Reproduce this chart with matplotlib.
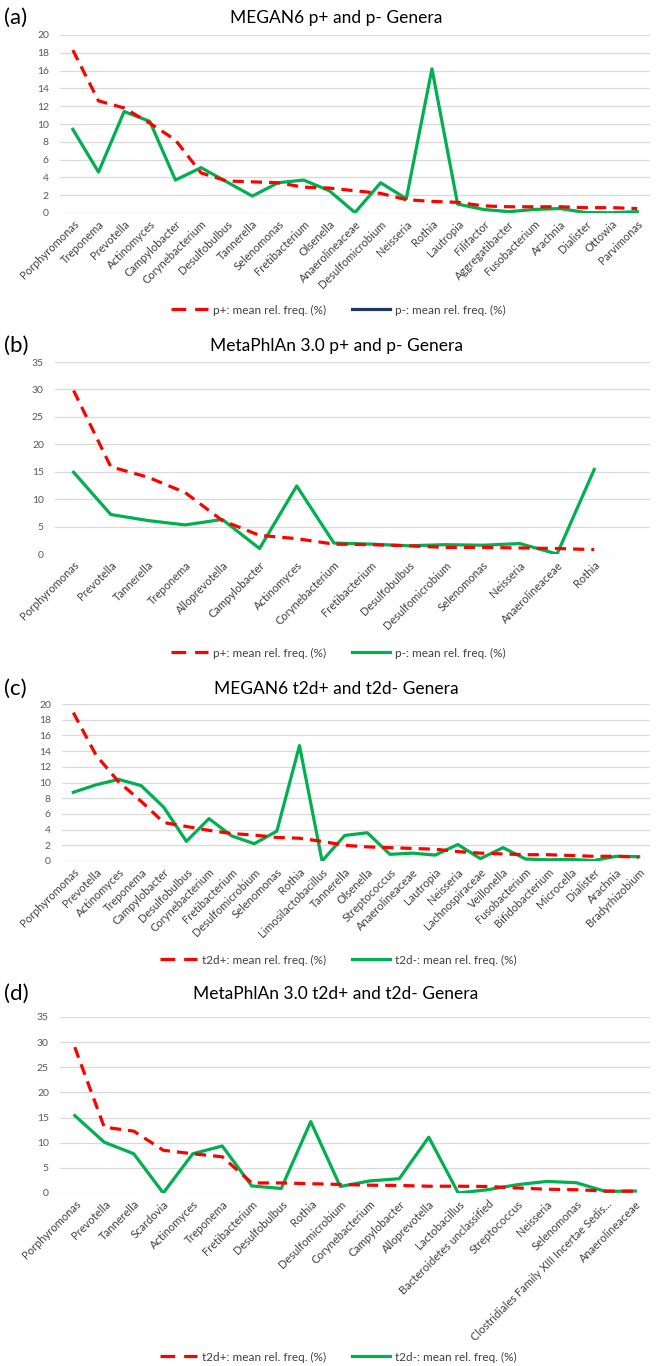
import numpy as np
import matplotlib.pyplot as plt
from matplotlib.lines import Line2D

plt.rcParams['font.family'] = ['Lato', 'DejaVu Sans']

RED = '#FF0000'
GREEN = '#00B050'
NAVY = '#1F3864'
GRID = '#D9D9D9'
TXT = '#595959'

# (a) MEGAN6, periodontitis
genera_a = ['Porphyromonas', 'Treponema', 'Prevotella', 'Actinomyces', 'Campylobacter',
            'Corynebacterium', 'Desulfobulbus', 'Tannerella', 'Selenomonas', 'Fretibacterium',
            'Olsenella', 'Anaerolineaceae', 'Desulfomicrobium', 'Neisseria', 'Rothia',
            'Lautropia', 'Filifactor', 'Aggregatibacter', 'Fusobacterium', 'Arachnia',
            'Dialister', 'Ottowia', 'Parvimonas']
p_plus_a = [18.3, 12.6, 11.8, 10.1, 8.2, 4.5, 3.6, 3.5, 3.4, 2.9, 2.8, 2.5, 2.2, 1.5, 1.3,
            1.2, 0.8, 0.7, 0.7, 0.7, 0.6, 0.6, 0.5]
p_minus_a = [9.4, 4.6, 11.4, 10.3, 3.7, 5.1, 3.5, 1.9, 3.4, 3.7, 2.5, 0.05, 3.4, 1.6, 16.2,
             1.0, 0.4, 0.15, 0.4, 0.5, 0.05, 0.03, 0.15]

# (b) MetaPhlAn 3.0, periodontitis (last category left empty)
genera_b = ['Porphyromonas', 'Prevotella', 'Tannerella', 'Treponema', 'Alloprevotella',
            'Campylobacter', 'Actinomyces', 'Corynebacterium', 'Fretibacterium', 'Desulfobulbus',
            'Desulfomicrobium', 'Selenomonas', 'Neisseria', 'Anaerolineaceae', 'Rothia', '']
p_plus_b = [29.8, 15.9, 14.0, 11.2, 6.1, 3.4, 2.8, 1.8, 1.7, 1.5, 1.2, 1.2, 1.1, 1.0, 0.8, np.nan]
p_minus_b = [14.9, 7.2, 6.1, 5.3, 6.3, 1.0, 12.4, 2.0, 1.8, 1.5, 1.7, 1.6, 1.9, 0.0, 15.4, np.nan]

# (c) MEGAN6, type 2 diabetes
genera_c = ['Porphyromonas', 'Prevotella', 'Actinomyces', 'Treponema', 'Campylobacter',
            'Desulfobulbus', 'Corynebacterium', 'Fretibacterium', 'Desulfomicrobium', 'Selenomonas',
            'Rothia', 'Limosilactobacillus', 'Tannerella', 'Olsenella', 'Streptococcus',
            'Anaerolineaceae', 'Lautropia', 'Neisseria', 'Lachnospiraceae', 'Veillonella',
            'Fusobacterium', 'Bifidobacterium', 'Microcella', 'Dialister', 'Arachnia',
            'Bradyrhizobium']
t2d_plus_c = [18.9, 13.5, 10.1, 7.6, 4.9, 4.4, 3.9, 3.5, 3.3, 3.0, 2.9, 2.5, 2.0, 1.8, 1.7,
              1.6, 1.5, 1.2, 1.0, 0.9, 0.8, 0.8, 0.7, 0.6, 0.6, 0.5]
t2d_minus_c = [8.75, 9.7, 10.4, 9.6, 6.85, 2.5, 5.4, 3.2, 2.2, 3.8, 14.7, 0.0, 3.25, 3.6, 0.85,
               1.0, 0.75, 2.1, 0.3, 1.7, 0.25, 0.15, 0.2, 0.05, 0.6, 0.55]

# (d) MetaPhlAn 3.0, type 2 diabetes
genera_d = ['Porphyromonas', 'Prevotella', 'Tannerella', 'Scardovia', 'Actinomyces', 'Treponema',
            'Fretibacterium', 'Desulfobulbus', 'Rothia', 'Desulfomicrobium', 'Corynebacterium',
            'Campylobacter', 'Alloprevotella', 'Lactobacillus', 'Bacteroidetes unclassified',
            'Streptococcus', 'Neisseria', 'Selenomonas',
            'Clostridiales Family XIII Incertae Sedis...', 'Anaerolineaceae']
t2d_plus_d = [29.0, 13.1, 12.3, 8.5, 7.8, 7.2, 2.0, 2.0, 1.85, 1.7, 1.55, 1.5, 1.35, 1.35, 1.3,
              1.0, 0.75, 0.65, 0.4, 0.35]
t2d_minus_d = [15.4, 10.1, 7.8, 0.0, 7.8, 9.35, 1.4, 0.9, 14.2, 1.3, 2.4, 2.85, 11.1, 0.0, 0.65,
               1.65, 2.3, 2.05, 0.3, 0.4]

W, H = 656, 1366
LW = 2.3
fig = plt.figure(figsize=(W / 100, H / 100), dpi=100)


def panel(x0, x1, ytop, ybot, cats, plus, minus, ymax, ystep, tag, title, tag_y,
          labels, legend_y, minus_key=GREEN):
    ax = fig.add_axes([x0 / W, 1 - ybot / H, (x1 - x0) / W, (ybot - ytop) / H])
    x = np.arange(len(cats))
    ax.plot(x, plus, color=RED, lw=LW, ls=(0, (3.5, 2.2)), zorder=3)
    ax.plot(x, minus, color=GREEN, lw=LW, zorder=2)
    ax.set_xlim(-0.5, len(cats) - 0.5)
    ax.set_ylim(0, ymax)
    ax.set_yticks(np.arange(0, ymax + 0.1, ystep))
    ax.grid(axis='y', color=GRID, lw=0.9)
    ax.set_axisbelow(True)
    for s in ax.spines.values():
        s.set_visible(False)
    ax.tick_params(length=0, labelsize=7.5, labelcolor=TXT)
    ax.tick_params(axis='y', pad=8)
    ax.set_xticks(x)
    ax.set_xticklabels(cats, rotation=45, ha='right', rotation_mode='anchor',
                       fontsize=8, color='#404040')
    ax.tick_params(axis='x', pad=4)
    fig.text(4 / W, 1 - tag_y / H, tag, fontsize=16, va='center', ha='left')
    fig.text(336 / W, 1 - tag_y / H, title, fontsize=12.5, va='center', ha='center')
    # key: two dashes for the + series, a plain bar for the - series
    handles = [Line2D([], [], color=RED, lw=LW, ls=(0, (4.6, 2.8))),
               Line2D([], [], color=minus_key, lw=LW)]
    fig.legend(handles, labels, loc='center', bbox_to_anchor=(338 / W, 1 - legend_y / H),
               ncol=2, frameon=False, fontsize=8.5, handlelength=3.2, columnspacing=2.2,
               handletextpad=0.4, labelcolor='#404040')
    return ax


panel(60, 650, 35, 213, genera_a, p_plus_a, p_minus_a, 20, 2, '(a)',
      'MEGAN6 p+ and p- Genera', 18,
      ['p+: mean rel. freq. (%)', 'p-: mean rel. freq. (%)'], 310, minus_key=NAVY)
panel(55, 650, 362, 554, genera_b, p_plus_b, p_minus_b, 35, 5, '(b)',
      'MetaPhlAn 3.0 p+ and p- Genera', 346,
      ['p+: mean rel. freq. (%)', 'p-: mean rel. freq. (%)'], 653)
panel(62, 650, 704, 861, genera_c, t2d_plus_c, t2d_minus_c, 20, 2, '(c)',
      'MEGAN6 t2d+ and t2d- Genera', 689,
      ['t2d+: mean rel. freq. (%)', 't2d-: mean rel. freq. (%)'], 960)
panel(60, 650, 1017, 1193, genera_d, t2d_plus_d, t2d_minus_d, 35, 5, '(d)',
      'MetaPhlAn 3.0 t2d+ and t2d- Genera', 994,
      ['t2d+: mean rel. freq. (%)', 't2d-: mean rel. freq. (%)'], 1357)

fig.savefig('out.png', dpi=100, facecolor='white')
